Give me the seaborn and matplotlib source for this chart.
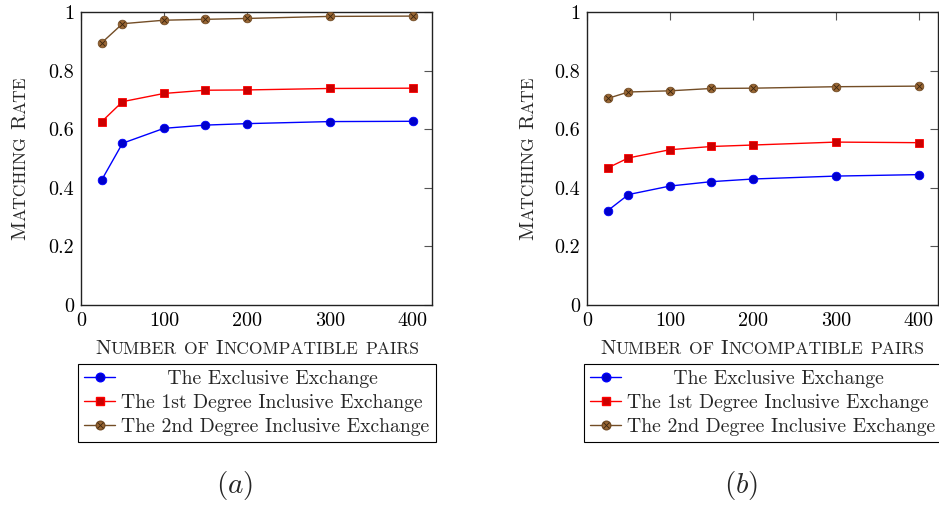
import matplotlib
matplotlib.use("Agg")
import numpy as np
import pandas as pd
import seaborn as sns
import matplotlib.pyplot as plt
import matplotlib.transforms as mtransforms
from matplotlib.lines import Line2D
from matplotlib.legend_handler import HandlerTuple
from matplotlib.font_manager import FontProperties

# ---------------- data ----------------
pairs = [25, 50, 100, 150, 200, 300, 400]
series_names = ["The Exclusive Exchange",
                "The 1st Degree Inclusive Exchange",
                "The 2nd Degree Inclusive Exchange"]

rate_a_exclusive = [0.427, 0.552, 0.603, 0.614, 0.619, 0.626, 0.627]
rate_a_first = [0.626, 0.694, 0.722, 0.733, 0.734, 0.739, 0.740]
rate_a_second = [0.895, 0.960, 0.972, 0.975, 0.978, 0.985, 0.986]

rate_b_exclusive = [0.322, 0.377, 0.406, 0.421, 0.430, 0.440, 0.445]
rate_b_first = [0.468, 0.502, 0.530, 0.541, 0.546, 0.556, 0.554]
rate_b_second = [0.705, 0.727, 0.731, 0.739, 0.740, 0.745, 0.747]

x_ticks = [0, 100, 200, 300, 400]
x_tick_labels = ["0", "100", "200", "300", "400"]
y_ticks = [0, 0.2, 0.4, 0.6, 0.8, 1]
y_tick_labels = ["0", "0.2", "0.4", "0.6", "0.8", "1"]
x_label = "Number of Incompatible pairs"
y_label = "Matching Rate"
panel_labels = [r"$(a)$", r"$(b)$"]

# ---------------- style ----------------
sns.set_theme(style="white")
plt.rcParams["font.family"] = ["cmr10", "DejaVu Serif"]
plt.rcParams["mathtext.fontset"] = "cm"
plt.rcParams["axes.formatter.use_mathtext"] = True
plt.rcParams["axes.unicode_minus"] = False

line_colors = {series_names[0]: "#0000ff",
               series_names[1]: "#ff0000",
               series_names[2]: "#734d26"}
fill_colors = {series_names[0]: "#0000cc",
               series_names[1]: "#cc0000",
               series_names[2]: "#996633"}
markers = {series_names[0]: "o", series_names[1]: "s", series_names[2]: "o"}

FS = 14.5
LEG_FS = 14.2
LAB_FS = 15
W, H = 939, 507
fig = plt.figure(figsize=(W / 100, H / 100), dpi=100)

def make_df(a, b, c):
    rows = []
    for name, vals in zip(series_names, [a, b, c]):
        for p, v in zip(pairs, vals):
            rows.append({"pairs": p, "rate": v, "series": name})
    return pd.DataFrame(rows)

datasets = [make_df(rate_a_exclusive, rate_a_first, rate_a_second),
            make_df(rate_b_exclusive, rate_b_first, rate_b_second)]
second_vals = [rate_a_second, rate_b_second]
ax_left_px = [81, 587]

axes = []
for i, df in enumerate(datasets):
    ax = fig.add_axes([ax_left_px[i] / W, 1 - 305 / H, 351 / W, 293 / H])
    axes.append(ax)
    sns.lineplot(data=df, x="pairs", y="rate", hue="series", style="series",
                 palette=line_colors, markers=markers, dashes=False,
                 hue_order=series_names, style_order=series_names,
                 estimator=None, linewidth=1.0, markersize=6.2,
                 legend=False, ax=ax, zorder=3)
    inv = {v: k for k, v in line_colors.items()}
    for ln in ax.lines:
        c = matplotlib.colors.to_hex(ln.get_color())
        name = inv.get(c)
        if name:
            ln.set_markerfacecolor(fill_colors[name])
            ln.set_markeredgecolor(line_colors[name])
            ln.set_markeredgewidth(0.6)
    sns.scatterplot(x=pairs, y=second_vals[i], marker="x", s=16,
                    color="#3a2510", linewidth=0.6, legend=False, ax=ax, zorder=4)

    ax.set_xlim(0, 423)
    ax.set_ylim(0, 1)
    ax.set_xticks(x_ticks)
    ax.set_xticklabels(x_tick_labels)
    ax.set_yticks(y_ticks)
    ax.set_yticklabels(y_tick_labels)
    ax.set_xlabel("")
    ax.set_ylabel("")
    ax.tick_params(direction="in", top=True, right=True, length=6, width=0.8,
                   color="#555555", labelsize=FS, labelcolor="black", pad=5)
    for sp in ax.spines.values():
        sp.set_color("#222222")
        sp.set_linewidth(1.0)
    ax.set_facecolor("white")

    handles = [
        Line2D([], [], color=line_colors[series_names[0]], marker="o",
               mfc=fill_colors[series_names[0]], mec=line_colors[series_names[0]],
               ms=6.2, lw=1.0),
        Line2D([], [], color=line_colors[series_names[1]], marker="s",
               mfc=fill_colors[series_names[1]], mec=line_colors[series_names[1]],
               ms=6.2, lw=1.0),
        (Line2D([], [], color=line_colors[series_names[2]], marker="o",
                mfc=fill_colors[series_names[2]], mec=line_colors[series_names[2]],
                ms=6.2, lw=1.0),
         Line2D([], [], ls="none", marker="x", color="#3a2510", ms=4.0, mew=0.6)),
    ]
    labels = ["       " + series_names[0], series_names[1], series_names[2]]
    leg = ax.legend(handles, labels, loc="upper left",
                    bbox_to_anchor=((ax_left_px[i] - 3) / W, 1 - 364 / H),
                    bbox_transform=fig.transFigure, borderaxespad=0,
                    frameon=True, fancybox=False, edgecolor="black", framealpha=1,
                    borderpad=0.3, handlelength=1.6, handletextpad=0.3,
                    labelspacing=0.3, fontsize=LEG_FS,
                    handler_map={tuple: HandlerTuple(ndivide=1, pad=0)})
    leg.get_frame().set_linewidth(0.8)

# ---------------- small caps labels ----------------
renderer = fig.canvas.get_renderer()

def text_width(s, size):
    prop = FontProperties(family=["cmr10"], size=size)
    w, h, d = renderer.get_text_width_height_descent(s, prop, ismath=False)
    return w

def small_caps(text, cx, cy, size, rotation=0, ratio=0.84):
    small = size * ratio
    runs = []
    for ch in text:
        if ch.isalpha() and ch.islower():
            item = (ch.upper(), small)
        else:
            item = (ch, size)
        if runs and runs[-1][1] == item[1]:
            runs[-1] = (runs[-1][0] + item[0], item[1])
        else:
            runs.append(item)
    widths = []
    for s, sz in runs:
        sp_w = text_width("A A", sz) - text_width("AA", sz)
        core = s.replace(" ", "")
        w = (text_width(core, sz) if core else 0) + s.count(" ") * sp_w
        widths.append(w)
    total = sum(widths)
    pos = -total / 2
    tr = mtransforms.IdentityTransform()
    for (s, sz), w in zip(runs, widths):
        lead = len(s) - len(s.lstrip(" "))
        sp_w = text_width("A A", sz) - text_width("AA", sz)
        off = pos + lead * sp_w
        txt = s.strip(" ")
        if txt:
            if rotation == 0:
                fig.text(cx + off, cy, txt, transform=tr, fontsize=sz,
                         ha="left", va="baseline", rotation_mode="anchor")
            else:
                fig.text(cx, cy + off, txt, transform=tr, fontsize=sz,
                         ha="left", va="baseline", rotation=90,
                         rotation_mode="anchor")
        pos += w

small_caps(x_label, 257, H - 354, LAB_FS)
small_caps(x_label, 762, H - 354, LAB_FS)
small_caps(y_label, 25, H - 158, LAB_FS, rotation=90)
small_caps(y_label, 533, H - 158, LAB_FS, rotation=90)

fig.text(235 / W, 1 - 485 / H, panel_labels[0], ha="center", va="center", fontsize=21)
fig.text(741 / W, 1 - 485 / H, panel_labels[1], ha="center", va="center", fontsize=21)

fig.savefig("out.png", dpi=100, facecolor="white")
